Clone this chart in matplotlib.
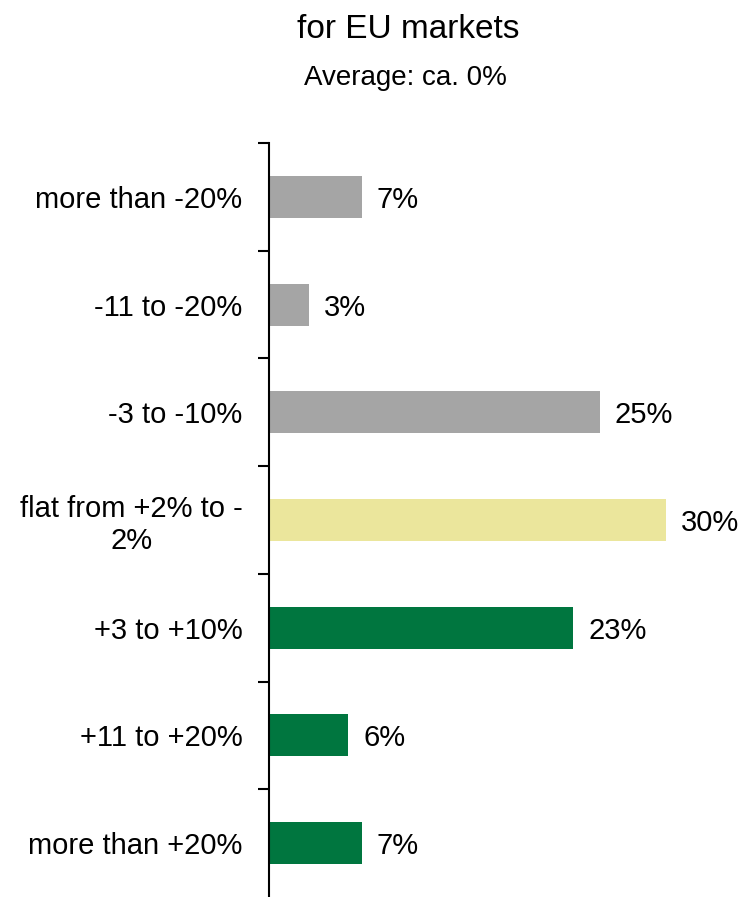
import numpy as np
import matplotlib.pyplot as plt

# categories from top to bottom, with the share of answers in %
categories = ["more than -20%", "-11 to -20%", "-3 to -10%", "flat from +2% to -\n2%",
              "+3 to +10%", "+11 to +20%", "more than +20%"]
shares = [7, 3, 25, 30, 23, 6, 7]
bar_colors = ["#A5A5A5", "#A5A5A5", "#A5A5A5", "#EBE69C", "#00763F", "#00763F", "#00763F"]

plt.rcParams['font.family'] = ['Liberation Sans', 'DejaVu Sans']

fig = plt.figure(figsize=(7.48, 8.97), dpi=100)
ax = fig.add_axes([269 / 748, 0.0, (740 - 269) / 748, 1 - 143 / 897])

y = np.arange(len(categories))
ax.barh(y, shares, height=0.39, color=bar_colors)

# value labels right of the bars
for yi, v in zip(y, shares):
    ax.text(v + 1.13, yi, f"{v}%", va='center_baseline', ha='left', fontsize=21)

ax.set_ylim(len(categories) - 0.5, -0.5)
ax.set_xlim(0, 35.6)

# category names as major ticks, boundary ticks as minor ticks (bottom one is off the picture)
ax.set_yticks(y)
labels = ax.set_yticklabels(categories, fontsize=21)
labels[3].set_multialignment('center')
ax.set_yticks(np.arange(-0.5, len(categories) - 0.5, 1), minor=True)
ax.tick_params(axis='y', which='major', length=0, pad=19)
ax.tick_params(axis='y', which='minor', length=8, width=1.5, direction='out')

ax.set_xticks([])
for side in ['top', 'right', 'bottom']:
    ax.spines[side].set_visible(False)
ax.spines['left'].set_linewidth(1.5)

fig.text(408 / 748, 1 - 29 / 897, "for EU markets", ha='center', va='center', fontsize=24)
fig.text(405 / 748, 1 - 78 / 897, "Average: ca. 0%", ha='center', va='center', fontsize=20)

fig.savefig("out.png", dpi=100)
